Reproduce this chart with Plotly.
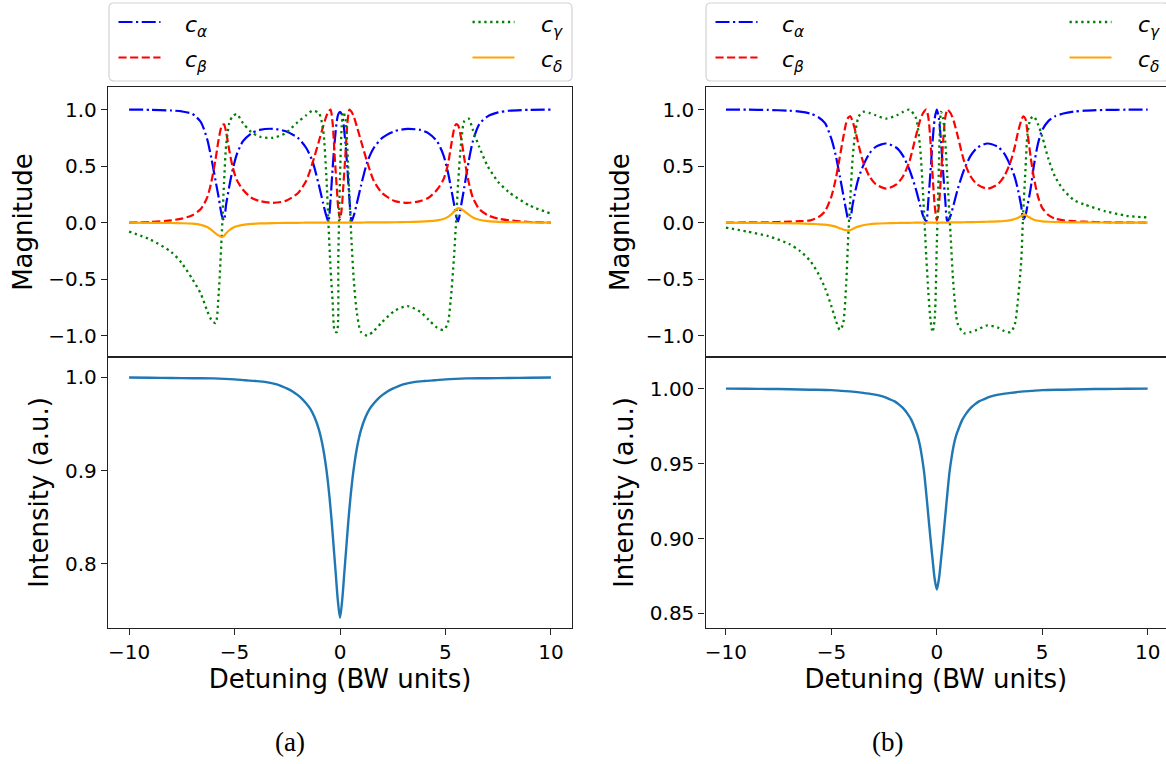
import plotly.graph_objects as go

# ---------------- data ----------------
# Panel (a): detuning grid for the magnitude curves
xa = [-10, -9, -8, -7.5, -7, -6.6, -6.3, -6.1, -5.9, -5.75, -5.6, -5.5, -5.4, -5.25, -5.1,
      -4.9, -4.6, -4.2, -3.8, -3.2, -2.6, -2.0, -1.6, -1.3, -1.0, -0.8, -0.65, -0.55, -0.45,
      -0.35, -0.25, -0.15, -0.08, 0, 0.08, 0.15, 0.25, 0.35, 0.45, 0.55, 0.65, 0.8, 1.0, 1.3,
      1.6, 2.0, 2.6, 3.2, 3.8, 4.2, 4.6, 4.9, 5.1, 5.25, 5.4, 5.5, 5.6, 5.75, 5.9, 6.1, 6.3,
      6.6, 7, 7.5, 8, 9, 10]
alpha_a = [1.0, 0.998, 0.992, 0.984, 0.962, 0.89, 0.74, 0.57, 0.37, 0.22, 0.06, 0.02, 0.16, 0.32, 0.46,
           0.6, 0.72, 0.79, 0.82, 0.83, 0.81, 0.75, 0.66, 0.54, 0.33, 0.17, 0.06, 0.01, 0.2,
           0.48, 0.72, 0.9, 0.96, 0.98, 0.96, 0.9, 0.72, 0.48, 0.2, 0.01, 0.06, 0.17, 0.33, 0.54,
           0.66, 0.75, 0.81, 0.83, 0.82, 0.79, 0.72, 0.6, 0.46, 0.32, 0.17, 0.06, 0.01, 0.16, 0.32, 0.54, 0.72,
           0.87, 0.94, 0.975, 0.99, 0.998, 1.0]
beta_a = [0.0, 0.005, 0.02, 0.035, 0.065, 0.12, 0.22, 0.36, 0.56, 0.74, 0.86, 0.87, 0.8, 0.64, 0.5,
          0.38, 0.29, 0.22, 0.19, 0.175, 0.19, 0.26, 0.37, 0.53, 0.72, 0.85, 0.94, 0.98, 1.0,
          0.88, 0.58, 0.3, 0.12, 0.03, 0.12, 0.3, 0.58, 0.88, 1.0, 0.98, 0.94, 0.85, 0.72, 0.53,
          0.37, 0.26, 0.19, 0.175, 0.19, 0.22, 0.29, 0.38, 0.5, 0.66, 0.82, 0.87, 0.86, 0.74, 0.56, 0.36, 0.22,
          0.12, 0.065, 0.035, 0.02, 0.005, 0.0]
gamma_a = [-0.08, -0.15, -0.26, -0.36, -0.5, -0.63, -0.78, -0.86, -0.89, -0.62, -0.08, 0.35, 0.68, 0.88, 0.94,
           0.96, 0.88, 0.8, 0.76, 0.75, 0.79, 0.89, 0.95, 0.99, 0.97, 0.82, 0.42, 0.0, -0.4,
           -0.7, -0.96, -0.97, -0.3, 0.4, 0.85, 0.98, 0.93, 0.65, 0.22, -0.18, -0.5, -0.8, -0.97, -1.0,
           -0.96, -0.88, -0.78, -0.74, -0.79, -0.86, -0.93, -0.95, -0.9, -0.68, -0.32, 0.0, 0.35, 0.72, 0.9, 0.92, 0.82,
           0.67, 0.5, 0.36, 0.27, 0.15, 0.08]
delta_a = [0.0, -0.002, -0.004, -0.006, -0.01, -0.02, -0.04, -0.065, -0.095, -0.115, -0.128, -0.118, -0.095, -0.068, -0.048,
           -0.032, -0.02, -0.012, -0.008, -0.005, -0.003, -0.002, -0.001, -0.001, 0.0, 0.0, 0.0, 0.0, 0.0,
           0.0, 0.0, 0.0, 0.0, 0.0, 0.0, 0.0, 0.0, 0.0, 0.0, 0.0, 0.0, 0.0, 0.0, 0.001,
           0.001, 0.002, 0.003, 0.005, 0.008, 0.012, 0.02, 0.032, 0.048, 0.068, 0.095, 0.115, 0.128, 0.12, 0.1, 0.07, 0.045,
           0.025, 0.012, 0.006, 0.004, 0.002, 0.0]

# Panel (b): detuning grid for the magnitude curves
xb = [-10, -9, -8, -7, -6.5, -6, -5.6, -5.3, -5.0, -4.8, -4.6, -4.45, -4.3, -4.2, -4.1, -4.0,
      -3.85, -3.7, -3.5, -3.2, -2.9, -2.4, -1.9, -1.6, -1.3, -1.0, -0.8, -0.65, -0.5, -0.4,
      -0.3, -0.2, -0.1, 0, 0.1, 0.2, 0.3, 0.4, 0.5, 0.65, 0.8, 1.0, 1.3, 1.6, 1.9, 2.4, 2.9,
      3.2, 3.5, 3.7, 3.85, 4.0, 4.1, 4.2, 4.3, 4.45, 4.6, 4.8, 5.0, 5.3, 5.6, 6, 6.5, 7, 8, 9, 10]
alpha_b = [1.0, 0.999, 0.997, 0.99, 0.982, 0.965, 0.93, 0.88, 0.74, 0.6, 0.41, 0.26, 0.11, 0.03, 0.04, 0.15,
           0.29, 0.4, 0.5, 0.61, 0.67, 0.7, 0.66, 0.59, 0.47, 0.3, 0.16, 0.06, 0.01, 0.2,
           0.45, 0.72, 0.92, 1.0, 0.92, 0.72, 0.45, 0.2, 0.01, 0.06, 0.16, 0.3, 0.47, 0.59, 0.66, 0.7, 0.67,
           0.61, 0.5, 0.4, 0.29, 0.15, 0.03, 0.06, 0.15, 0.3, 0.5, 0.7, 0.82, 0.9, 0.94, 0.965, 0.982, 0.99, 0.997, 0.999, 1.0]
beta_b = [0.0, 0.001, 0.003, 0.008, 0.012, 0.02, 0.05, 0.1, 0.23, 0.38, 0.58, 0.74, 0.88, 0.93, 0.94, 0.9,
          0.8, 0.68, 0.54, 0.41, 0.34, 0.3, 0.34, 0.41, 0.54, 0.76, 0.9, 0.97, 1.0, 0.93,
          0.72, 0.42, 0.15, 0.02, 0.15, 0.42, 0.72, 0.93, 1.0, 0.97, 0.9, 0.76, 0.54, 0.41, 0.34, 0.3, 0.34,
          0.41, 0.54, 0.67, 0.8, 0.9, 0.94, 0.92, 0.8, 0.58, 0.4, 0.23, 0.13, 0.065, 0.035, 0.02, 0.012, 0.008, 0.003, 0.001, 0.0]
gamma_b = [-0.045, -0.08, -0.12, -0.19, -0.25, -0.34, -0.46, -0.58, -0.74, -0.86, -0.95, -0.9, -0.55, -0.12, 0.22, 0.55,
           0.82, 0.94, 0.98, 0.97, 0.95, 0.92, 0.95, 0.98, 1.0, 0.93, 0.68, 0.25, -0.3, -0.62,
           -0.86, -0.97, -0.85, -0.2, 0.5, 0.98, 0.92, 0.72, 0.4, -0.1, -0.58, -0.9, -0.98, -0.97, -0.95, -0.91, -0.93,
           -0.96, -0.97, -0.9, -0.68, -0.35, 0.1, 0.45, 0.78, 0.92, 0.94, 0.87, 0.76, 0.56, 0.41, 0.29, 0.2, 0.16, 0.1, 0.06, 0.045]
delta_b = [0.0, -0.002, -0.003, -0.006, -0.008, -0.011, -0.015, -0.019, -0.027, -0.036, -0.05, -0.061, -0.068, -0.07, -0.068, -0.058,
           -0.044, -0.034, -0.024, -0.015, -0.01, -0.006, -0.004, -0.003, -0.002, -0.001, -0.001, 0.0, 0.0, 0.0,
           0.0, 0.0, 0.0, 0.0, 0.0, 0.0, 0.0, 0.0, 0.0, 0.001, 0.001, 0.002, 0.003, 0.004, 0.005, 0.007, 0.01,
           0.014, 0.022, 0.032, 0.043, 0.058, 0.067, 0.07, 0.055, 0.04, 0.025, 0.016, 0.011, 0.007, 0.005, 0.003, 0.002, 0.001, 0.0005, 0.0, 0.0]

# Intensity curves
xi = [-10, -9, -8, -7, -6, -5, -4.5, -4, -3.5, -3, -2.75, -2.5, -2.25, -2, -1.8, -1.6, -1.4, -1.2,
      -1.0, -0.9, -0.8, -0.7, -0.6, -0.5, -0.4, -0.3, -0.2, -0.1, 0, 0.1, 0.2, 0.3, 0.4, 0.5, 0.6,
      0.7, 0.8, 0.9, 1.0, 1.2, 1.4, 1.6, 1.8, 2, 2.25, 2.5, 2.75, 3, 3.5, 4, 4.5, 5, 6, 7, 8, 9, 10]
int_a = [1.0, 0.9997, 0.9995, 0.9992, 0.999, 0.998, 0.997, 0.9962, 0.995, 0.9925, 0.9905, 0.988, 0.985,
         0.981, 0.977, 0.972, 0.966, 0.957, 0.944, 0.935, 0.924, 0.91, 0.893, 0.872, 0.847, 0.818, 0.789,
         0.76, 0.742, 0.76, 0.789, 0.818, 0.847, 0.872, 0.893, 0.91, 0.924, 0.935, 0.944, 0.957, 0.966,
         0.972, 0.977, 0.981, 0.985, 0.988, 0.9905, 0.9925, 0.995, 0.9962, 0.997, 0.998, 0.999, 0.9992,
         0.9995, 0.9997, 1.0]
int_b = [1.0, 0.9999, 0.9998, 0.9996, 0.9993, 0.999, 0.9985, 0.998, 0.9972, 0.9962, 0.9955, 0.9945, 0.993,
         0.9915, 0.9895, 0.987, 0.9835, 0.979, 0.972, 0.968, 0.962, 0.954, 0.944, 0.93, 0.915, 0.9, 0.886,
         0.873, 0.866, 0.873, 0.886, 0.9, 0.915, 0.93, 0.944, 0.954, 0.962, 0.968, 0.972, 0.979, 0.9835,
         0.987, 0.9895, 0.9915, 0.993, 0.9945, 0.9955, 0.9962, 0.9972, 0.998, 0.9985, 0.999, 0.9993, 0.9996,
         0.9998, 0.9999, 1.0]

x_ticks = [-10, -5, 0, 5, 10]
mag_ticks = [-1.0, -0.5, 0.0, 0.5, 1.0]
int_ticks_a = [0.8, 0.9, 1.0]
int_ticks_b = [0.85, 0.90, 0.95, 1.00]
series_names = ["<i>c</i><sub><i>α</i></sub>", "<i>c</i><sub><i>β</i></sub>",
                "<i>c</i><sub><i>γ</i></sub>", "<i>c</i><sub><i>δ</i></sub>"]

# ---------------- styling ----------------
W, H = 1166, 764
FONT = "DejaVu Sans"
AX = "#222222"
styles = [
    dict(color="blue", width=2.2, dash="14px,3.5px,2.2px,3.5px"),
    dict(color="red", width=2.2, dash="8.1px,3.5px"),
    dict(color="green", width=2.3, dash="2.3px,3.6px"),
    dict(color="orange", width=2.2, dash="solid"),
]
BLUE_I = "#1f77b4"


def fx(p):
    return p / W


def fy(p):
    return 1 - p / H


fig = go.Figure()


def add_mag(x, series, xa_name, ya_name):
    for name, ys, st in zip(series_names, series, styles):
        fig.add_trace(go.Scatter(
            x=x, y=ys, mode="lines", name=name, showlegend=False,
            line=dict(color=st["color"], width=st["width"], dash=st["dash"],
                      shape="spline", smoothing=0.7),
            xaxis=xa_name, yaxis=ya_name, hoverinfo="skip"))


add_mag(xa, [alpha_a, beta_a, gamma_a, delta_a], "x", "y")
fig.add_trace(go.Scatter(x=xi, y=int_a, mode="lines", showlegend=False,
                         line=dict(color=BLUE_I, width=2.4, shape="spline", smoothing=0.8),
                         xaxis="x2", yaxis="y2"))
add_mag(xb, [alpha_b, beta_b, gamma_b, delta_b], "x3", "y3")
fig.add_trace(go.Scatter(x=xi, y=int_b, mode="lines", showlegend=False,
                         line=dict(color=BLUE_I, width=2.4, shape="spline", smoothing=0.8),
                         xaxis="x4", yaxis="y4"))

tickfont = dict(family=FONT, size=20, color="black")
titlefont = dict(family=FONT, size=26, color="black")

base_x = dict(showline=True, linecolor=AX, linewidth=1.3, showgrid=False, zeroline=False,
              tickvals=x_ticks, tickfont=tickfont)
base_y = dict(showline=True, linecolor=AX, linewidth=1.3, showgrid=False, zeroline=False,
              ticks="outside", ticklen=6, tickwidth=1.2, tickcolor=AX, tickfont=tickfont)

dom_a = [fx(108), fx(572)]
dom_b = [fx(705.5), 1.0]
dom_top = [fy(357), fy(87)]
dom_bot = [fy(628), fy(357)]

fig.update_layout(
    width=W, height=H, margin=dict(l=0, r=0, t=0, b=0),
    paper_bgcolor="white", plot_bgcolor="white", showlegend=False,
    xaxis=dict(base_x, domain=dom_a, range=[-11, 11], anchor="y", mirror=True,
               ticks="", showticklabels=False),
    yaxis=dict(base_y, domain=dom_top, range=[-1.19, 1.2], anchor="x", mirror=True,
               tickvals=mag_ticks, tickformat=".1f",
               title=dict(text="Magnitude", font=titlefont, standoff=8)),
    xaxis2=dict(base_x, domain=dom_a, range=[-11, 11], anchor="y2", mirror=True,
                ticks="outside", ticklen=6, tickwidth=1.2, tickcolor=AX,
                title=dict(text="Detuning (BW units)", font=titlefont, standoff=4)),
    yaxis2=dict(base_y, domain=dom_bot, range=[0.731, 1.022], anchor="x2", mirror=True,
                tickvals=int_ticks_a, tickformat=".1f",
                title=dict(text="Intensity (a.u.)", font=titlefont, standoff=8)),
    xaxis3=dict(base_x, domain=dom_b, range=[-10.97, 10.87], anchor="y3", mirror=True,
                ticks="", showticklabels=False),
    yaxis3=dict(base_y, domain=dom_top, range=[-1.19, 1.2], anchor="x3", mirror=False,
                tickvals=mag_ticks, tickformat=".1f",
                title=dict(text="Magnitude", font=titlefont, standoff=8)),
    xaxis4=dict(base_x, domain=dom_b, range=[-10.97, 10.87], anchor="y4", mirror=True,
                ticks="outside", ticklen=6, tickwidth=1.2, tickcolor=AX,
                title=dict(text="Detuning (BW units)", font=titlefont, standoff=4)),
    yaxis4=dict(base_y, domain=dom_bot, range=[0.8403, 1.0211], anchor="x4", mirror=False,
                tickvals=int_ticks_b, tickformat=".2f",
                title=dict(text="Intensity (a.u.)", font=titlefont, standoff=8)),
)


# ---------------- legends (drawn as boxes, samples and text) ----------------
def rounded_box(x0, y0, x1, y1, r):
    pts = [
        ("M", [(x0 + r, y0)]), ("L", [(x1 - r, y0)]), ("Q", [(x1, y0), (x1, y0 + r)]),
        ("L", [(x1, y1 - r)]), ("Q", [(x1, y1), (x1 - r, y1)]), ("L", [(x0 + r, y1)]),
        ("Q", [(x0, y1), (x0, y1 - r)]), ("L", [(x0, y0 + r)]), ("Q", [(x0, y0), (x0 + r, y0)]),
    ]
    s = ""
    for cmd, ps in pts:
        s += cmd + " ".join(f"{fx(px):.5f},{fy(py):.5f}" for px, py in ps) + " "
    return s + "Z"


shapes = []
annotations = []
for off in (0, 597):
    shapes.append(dict(type="path", xref="paper", yref="paper",
                       path=rounded_box(109 + off, 3, 572 + off, 81, 5),
                       line=dict(color="#d3d3d3", width=1.2), fillcolor="white", layer="above"))
    entries = [(118.5, 22, 183, 0), (118.5, 57.5, 183, 1), (472.5, 22, 539, 2), (472.5, 57.5, 539, 3)]
    for sx, sy, tx, k in entries:
        st = styles[k]
        shapes.append(dict(type="line", xref="paper", yref="paper",
                           x0=fx(sx + off), x1=fx(sx + 42 + off), y0=fy(sy), y1=fy(sy),
                           line=dict(color=st["color"], width=st["width"], dash=st["dash"])))
        annotations.append(dict(xref="paper", yref="paper", x=fx(tx + off), y=fy(sy + 4),
                                xanchor="left", yanchor="middle", showarrow=False,
                                text=series_names[k],
                                font=dict(family=FONT, size=22, color="black")))

for cx, lab in ((290, "(a)"), (887, "(b)")):
    annotations.append(dict(xref="paper", yref="paper", x=fx(cx), y=fy(742),
                            xanchor="center", yanchor="middle", showarrow=False, text=lab,
                            font=dict(family="Liberation Serif", size=27, color="black")))

fig.update_layout(shapes=shapes, annotations=annotations)
fig.write_html("out.html")
